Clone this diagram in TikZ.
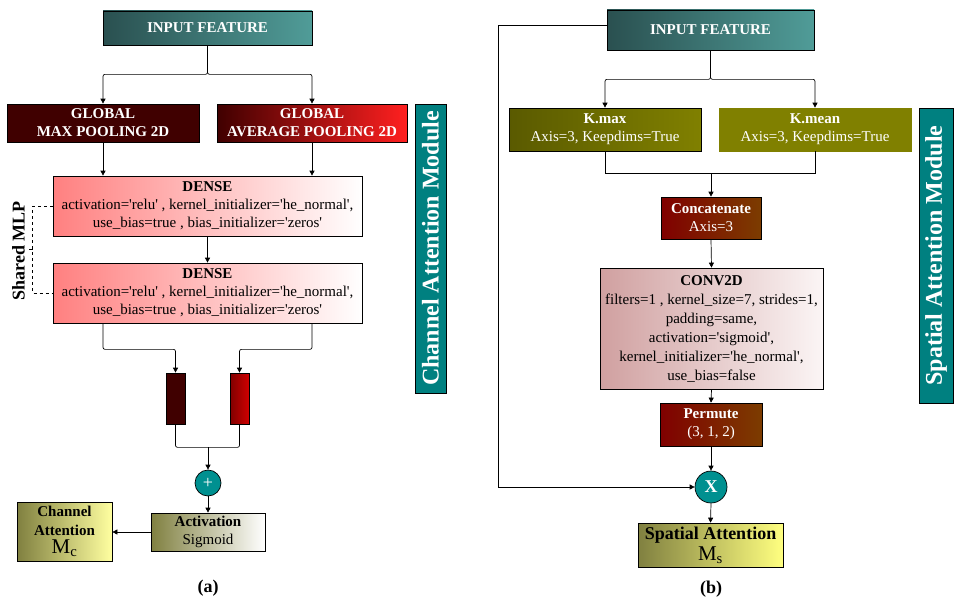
\documentclass[tikz,border=0pt]{standalone}
\usepackage{fontspec}
\newfontfamily\tnr{Liberation Serif}
\usetikzlibrary{arrows.meta,calc}
\definecolor{tealA}{HTML}{2A5050}
\definecolor{tealB}{HTML}{509C98}
\definecolor{maroon}{HTML}{400000}
\definecolor{redB}{HTML}{FF2020}
\definecolor{salmon}{HTML}{FF8080}
\definecolor{barB1}{HTML}{800000}
\definecolor{barB2}{HTML}{D00000}
\definecolor{circ}{HTML}{009090}
\definecolor{olA}{HTML}{808040}
\definecolor{yelB}{HTML}{FFFFA0}
\definecolor{modc}{HTML}{008080}
\definecolor{kmA}{HTML}{5A5A00}
\definecolor{kmB}{HTML}{808000}
\definecolor{brA}{HTML}{800000}
\definecolor{brB}{HTML}{7C3C00}
\definecolor{pinkA}{HTML}{D0A0A0}
\definecolor{pinkB}{HTML}{FBF5F5}
\definecolor{yelC}{HTML}{FFFF80}
\begin{document}
\begin{tikzpicture}[x=1pt,y=-1pt,
  every node/.style={font=\tnr\fontsize{15}{18}\selectfont},
  box/.style={draw=black, line width=0.7pt, inner sep=1pt, align=center},
  wtext/.style={text=white},
  hgrad/.style 2 args={shade, left color=#1, right color=#2},
  arr/.style={line width=0.7pt, -{Triangle[length=5pt,width=5pt]}},
  ln/.style={line width=0.7pt},
  modlabel/.style={draw=black, line width=0.7pt, fill=modc, text=white, rotate=90, inner sep=0pt,
    font=\tnr\bfseries\fontsize{24}{26}\selectfont},
  circnode/.style={circle, draw=black, line width=0.7pt, fill=circ, text=white, inner sep=0pt}
]
\useasboundingbox (0,0) rectangle (968,602);

% ---------------- (a) Channel attention ----------------
\node[box, hgrad={tealA}{tealB}, wtext, minimum width=209pt, minimum height=34pt] (inL) at (207.5,28)
  {\bfseries INPUT FEATURE};
\node[box, fill=maroon, wtext, minimum width=192pt, minimum height=38pt] (gmax) at (103,123)
  {\bfseries GLOBAL\\\bfseries MAX POOLING 2D};
\node[box, hgrad={maroon}{redB}, wtext, minimum width=190pt, minimum height=38pt] (gavg) at (312,123)
  {\bfseries GLOBAL\\\bfseries AVERAGE POOLING 2D};
\node[box, hgrad={salmon}{white}, minimum width=309pt, minimum height=60pt] (d1) at (207.5,206)
  {\bfseries DENSE\\activation='relu' , kernel\_initializer='he\_normal',\\use\_bias=true , bias\_initializer='zeros'};
\node[box, hgrad={salmon}{white}, minimum width=309pt, minimum height=60pt] (d2) at (207.5,293)
  {\bfseries DENSE\\activation='relu' , kernel\_initializer='he\_normal',\\use\_bias=true , bias\_initializer='zeros'};
\node[box, fill=maroon, minimum width=19pt, minimum height=51pt, inner sep=0pt] (barL) at (175.5,398.5) {};
\node[box, hgrad={barB1}{barB2}, minimum width=19pt, minimum height=51pt, inner sep=0pt] (barR) at (239.5,398.5) {};
\node[circnode, minimum size=26pt, font=\tnr\fontsize{18}{18}\selectfont] (plus) at (208,483) {+};
\node[box, hgrad={olA}{white}, minimum width=114pt, minimum height=38pt] (act) at (208,532)
  {\bfseries Activation\\Sigmoid};
\node[box, hgrad={olA}{yelB}, minimum width=95pt, minimum height=59pt, font=\tnr\fontsize{15}{18.5}\selectfont] (catt) at (64.5,531.5)
  {\bfseries Channel\\\bfseries Attention\\{\fontsize{21}{20}\selectfont M\textsubscript{c}}};
\node[modlabel, minimum width=289pt, minimum height=31pt] (cam) at (430.5,248.5) {Channel Attention Module};
\node[rotate=90, font=\tnr\bfseries\fontsize{18}{18}\selectfont] (smlp) at (18.5,251) {Shared MLP};
\node[font=\tnr\bfseries\fontsize{18}{18}\selectfont] (lba) at (208,588) {(a)};

\draw[arr, rounded corners=2pt] (inL.south) -- ++(0,29) -| (gmax.north);
\draw[arr, rounded corners=2pt] (inL.south) -- ++(0,29) -| (gavg.north);
\draw[arr] (gmax.south) -- (gmax.south |- d1.north);
\draw[arr] (gavg.south) -- (gavg.south |- d1.north);
\draw[arr] (d1.south) -- (d2.north);
\draw[ln, dashed] (d1.west) -- ++(-20,0) coordinate (sm1) |- (d2.west);
\draw[ln] ($(sm1)!0.5!(sm1 |- d2.west)$) -- ++(-4,0);
\draw[arr, rounded corners=2pt] (d2.south -| gmax.south) -- ++(0,26) -| (barL.north);
\draw[arr, rounded corners=2pt] (d2.south -| gavg.south) -- ++(0,26) -| (barR.north);
\draw[ln, rounded corners=2pt] (barL.south) -- ++(0,23) coordinate (jl) -| (barR.south);
\draw[arr] (jl -| plus.north) -- (plus.north);
\draw[arr] (plus.south) -- (act.north);
\draw[arr] (act.west) -- (catt.east |- act.west);

% ---------------- (b) Spatial attention ----------------
\node[box, hgrad={tealA}{tealB}, wtext, minimum width=207pt, minimum height=40pt] (inR) at (710.5,30)
  {\bfseries INPUT FEATURE};
\node[box, hgrad={kmA}{kmB}, wtext, minimum width=192pt, minimum height=43pt] (kmax) at (605,129.5)
  {\bfseries K.max\\Axis=3, Keepdims=True};
\node[box, draw=kmB, fill=kmB, wtext, minimum width=192pt, minimum height=43pt] (kmean) at (815,129.5)
  {\bfseries K.mean\\Axis=3, Keepdims=True};
\node[box, hgrad={brA}{brB}, wtext, minimum width=100pt, minimum height=42pt] (cat) at (711,218)
  {\bfseries Concatenate\\Axis=3};
\node[box, hgrad={pinkA}{pinkB}, minimum width=223pt, minimum height=121pt, font=\tnr\fontsize{15}{19}\selectfont] (conv) at (711.5,328.5)
  {\bfseries CONV2D\\filters=1 , kernel\_size=7, strides=1,\\padding=same,\\activation='sigmoid',\\kernel\_initializer='he\_normal',\\use\_bias=false};
\node[box, hgrad={brA}{brB}, wtext, minimum width=102pt, minimum height=43pt] (perm) at (711,424.5)
  {\bfseries Permute\\(3, 1, 2)};
\node[circnode, minimum size=32pt, font=\tnr\bfseries\fontsize{18}{18}\selectfont] (mul) at (711,487) {X};
\node[box, hgrad={olA}{yelC}, minimum width=145pt, minimum height=44pt, font=\tnr\fontsize{18}{21}\selectfont] (satt) at (710.5,545)
  {\bfseries Spatial Attention\\{\fontsize{21}{20}\selectfont M\textsubscript{s}}};
\node[modlabel, minimum width=295pt, minimum height=34pt] (sam) at (936,255.5) {Spatial Attention Module};
\node[font=\tnr\bfseries\fontsize{18}{18}\selectfont] (lbb) at (711,589) {(b)};

\coordinate (skip) at (498,25);
\draw[arr] ([yshift=5pt]inR.west) -- (skip) |- (mul.west);
\draw[arr, rounded corners=2pt] (inR.south) -- ++(0,29) -| (kmax.north);
\draw[arr, rounded corners=2pt] (inR.south) -- ++(0,29) -| (kmean.north);
\draw[ln] (kmax.south) -- ++(0,22) coordinate (jk) -| (kmean.south);
\draw[arr] (jk -| cat.north) -- (cat.north);
\draw[arr] (cat.south) -- (conv.north);
\draw[arr] (conv.south) -- (perm.north);
\draw[arr] (perm.south) -- (mul.north);
\draw[arr] (mul.south) -- (satt.north);
\end{tikzpicture}
\end{document}
